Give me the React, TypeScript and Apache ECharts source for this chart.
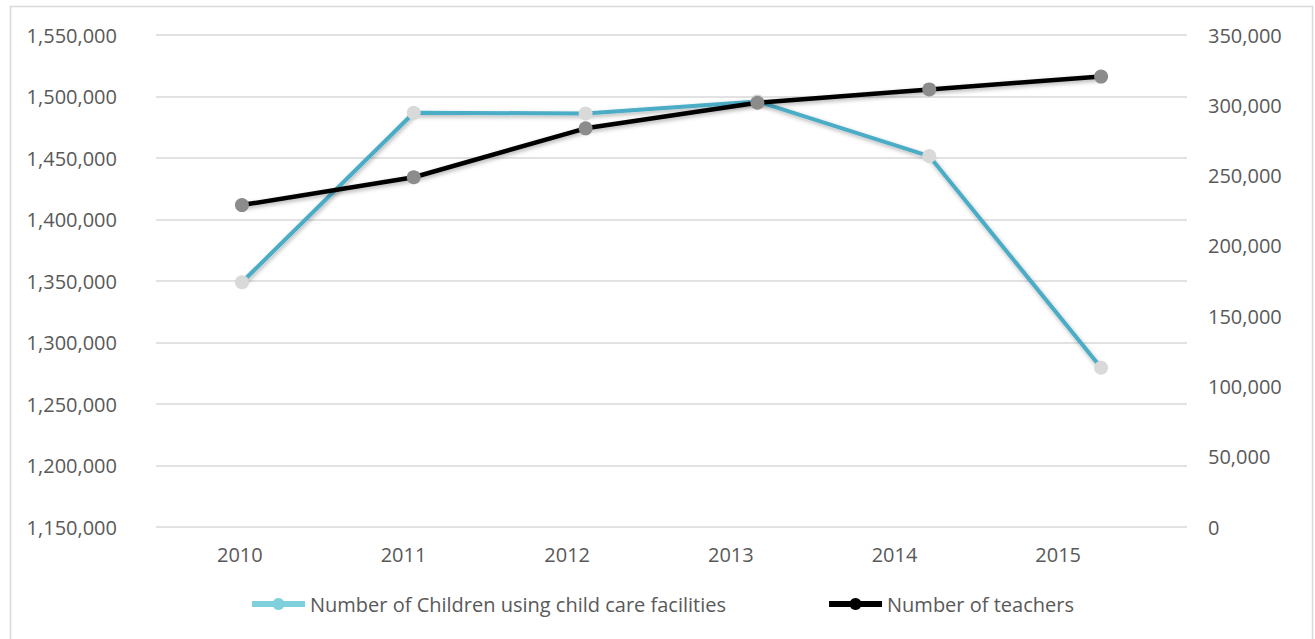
import React, { useEffect, useRef } from "react";
import * as echarts from "echarts";

const years = ["2010", "2011", "2012", "2013", "2014", "2015"];
const children = [1349000, 1486800, 1486200, 1496000, 1451600, 1279500];
const teachers = [229000, 248800, 283600, 301800, 311300, 320400];
const leftTicks = { min: 1150000, max: 1550000, interval: 50000 };
const rightTicks = { min: 0, max: 350000, interval: 50000 };
const seriesNames = [
  "Number of Children using child care facilities",
  "Number of teachers",
];

const FONT = "Open Sans";
const TEXT = "#595959";

export default function App() {
  const ref = useRef<HTMLDivElement>(null);
  useEffect(() => {
    const chart = echarts.init(ref.current!, null, { renderer: "svg" });
    const fmt = (v: number) => v.toLocaleString("en-US");
    chart.setOption({
      animation: false,
      backgroundColor: "#ffffff",
      textStyle: { fontFamily: FONT, color: TEXT },
      grid: [
        { left: 156, right: 128, top: 35, height: 492 },
        { left: 158, width: 982, top: 35, height: 492 },
      ],
      graphic: [
        {
          type: "rect",
          shape: { x: 10.5, y: 6.5, width: 1302, height: 640 },
          style: { fill: "none", stroke: "#d9d9d9", lineWidth: 1.5 },
          silent: true,
        },
      ],
      legend: {
        left: 244,
        top: 589,
        itemWidth: 53,
        itemHeight: 15,
        itemGap: 100,
        textStyle: { fontFamily: FONT, fontSize: 20, color: TEXT },
        data: [
          {
            name: seriesNames[0],
            itemStyle: { color: "#7fcfdc" },
            lineStyle: { color: "#7fcfdc", width: 6 },
          },
          {
            name: seriesNames[1],
            itemStyle: { color: "#000000" },
            lineStyle: { color: "#000000", width: 6 },
          },
        ],
      },
      xAxis: [
        {
          type: "category",
          gridIndex: 0,
          data: years,
          boundaryGap: true,
          axisLine: { show: false },
          axisTick: { show: false },
          axisLabel: { show: false },
        },
        {
          type: "category",
          gridIndex: 1,
          data: years,
          boundaryGap: true,
          axisLine: { show: false },
          axisTick: { show: false },
          axisLabel: {
            margin: 17,
            fontFamily: FONT,
            fontSize: 20,
            color: TEXT,
          },
        },
      ],
      yAxis: [
        {
          type: "value",
          gridIndex: 0,
          ...leftTicks,
          axisLine: { show: false },
          axisTick: { show: false },
          splitLine: { lineStyle: { color: "#d9d9d9", width: 1.5 } },
          axisLabel: {
            margin: 39,
            fontFamily: FONT,
            fontSize: 20,
            color: TEXT,
            formatter: fmt,
          },
        },
        {
          type: "value",
          gridIndex: 0,
          position: "right",
          ...rightTicks,
          axisLine: { show: false },
          axisTick: { show: false },
          splitLine: { show: false },
          axisLabel: {
            margin: 21,
            fontFamily: FONT,
            fontSize: 20,
            color: TEXT,
            formatter: fmt,
          },
        },
        {
          type: "value",
          gridIndex: 1,
          show: false,
          splitLine: { show: false },
        },
      ],
      series: [
        {
          name: seriesNames[0],
          type: "line",
          xAxisIndex: 0,
          yAxisIndex: 0,
          data: children,
          symbol: "circle",
          symbolSize: 14,
          z: 2,
          lineStyle: {
            color: "#4bacc6",
            width: 4,
            shadowColor: "rgba(0,0,0,0.3)",
            shadowBlur: 4,
            shadowOffsetX: 1,
            shadowOffsetY: 2,
          },
          itemStyle: { color: "#d9d9d9" },
        },
        {
          name: seriesNames[1],
          type: "line",
          xAxisIndex: 0,
          yAxisIndex: 1,
          data: teachers,
          symbol: "circle",
          symbolSize: 14,
          z: 3,
          lineStyle: {
            color: "#000000",
            width: 4.5,
            shadowColor: "rgba(0,0,0,0.3)",
            shadowBlur: 4,
            shadowOffsetX: 1,
            shadowOffsetY: 2,
          },
          itemStyle: { color: "#8c8c8c" },
        },
      ],
    });
    return () => chart.dispose();
  }, []);
  return (
    <div
      ref={ref}
      style={{ position: "absolute", left: 0, top: 0, width: 1315, height: 639 }}
    />
  );
}
